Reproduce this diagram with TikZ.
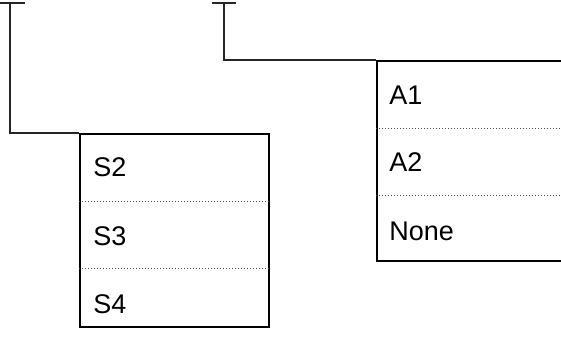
\documentclass[tikz,border=0pt]{standalone}
\usepackage{fontspec}
\setmainfont{Liberation Sans}
\usetikzlibrary{shapes}

\begin{document}
\begin{tikzpicture}[x=0.5pt,y=-0.5pt,
  box/.style={shape=rectangle,draw=black,line width=0.9pt,inner sep=0pt},
  rowline/.style={draw=black!70,densely dotted,line width=0.5pt},
  link/.style={draw=black!85,line width=0.9pt},
  label/.style={anchor=west,inner sep=0pt,font=\fontsize{13.5}{16}\selectfont}]
\useasboundingbox (0,0) rectangle (561,338);
\begin{scope}
\clip (0,0) rectangle (561,338);
\coordinate (topS) at (10,3);
\coordinate (topA) at (224,3);
\node[box,minimum width=94.5pt,minimum height=96.5pt] (sbox) at (174.5,230.5) {};
\node[box,minimum width=111.5pt,minimum height=100pt] (abox) at (488.5,161) {};

\node[label] (s2) at (93,167) {S2};
\node[label] (s3) at (93,236) {S3};
\node[label] (s4) at (93,304) {S4};
\node[label] (a1) at (389,95) {A1};
\node[label] (a2) at (389,162) {A2};
\node[label] (none) at (389,231) {None};

\path [rowline] (sbox.west |- 0,201) -- (sbox.east |- 0,201);
\path [rowline] (sbox.west |- 0,268) -- (sbox.east |- 0,268);
\path [rowline] (abox.west |- 0,128) -- (abox.east |- 0,128);
\path [rowline] (abox.west |- 0,195) -- (abox.east |- 0,195);

\path [link] ([xshift=-5pt]topS) -- ([xshift=7.5pt]topS);
\path [link] ([xshift=-6pt]topA) -- ([xshift=6pt]topA);
\path [link] (topS) |- (sbox.north west);
\path [link] (topA) |- (abox.north west);
\end{scope}
\end{tikzpicture}
\end{document}
